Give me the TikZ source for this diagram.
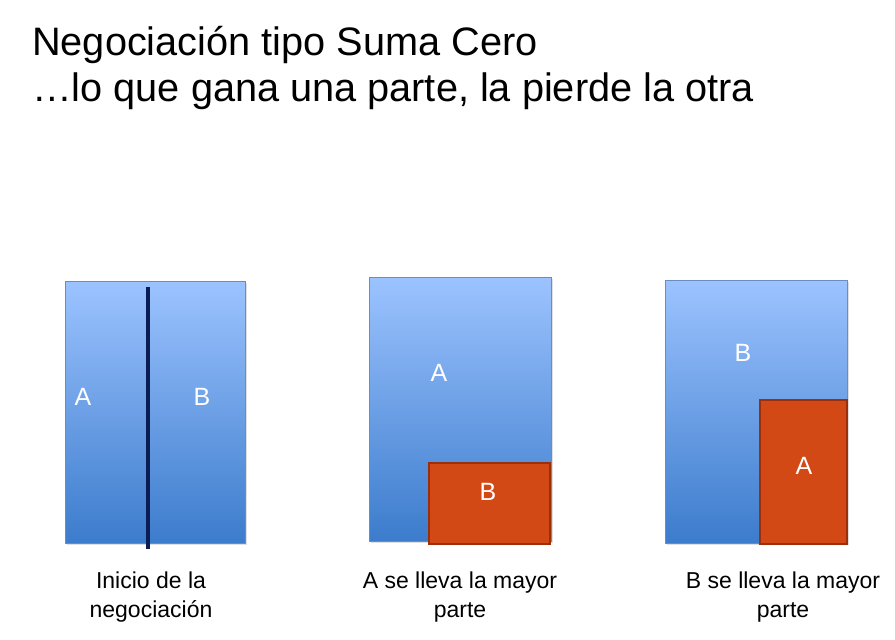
\documentclass[tikz,border=0pt]{standalone}
\usepackage{fontspec}
\setmainfont{Liberation Sans}
\usetikzlibrary{shadows}
\definecolor{bluetop}{HTML}{9CC3FF}
\definecolor{bluebot}{HTML}{3C7CCC}
\definecolor{blueedge}{HTML}{6A8CBE}
\definecolor{redfill}{HTML}{D34916}
\definecolor{rededge}{HTML}{9C2E0C}
\definecolor{navy}{HTML}{0A1E55}
\tikzset{
  bluebox/.style={draw=blueedge, line width=1pt, top color=bluetop, bottom color=bluebot, drop shadow={shadow xshift=1.5pt, shadow yshift=-1.5pt, opacity=0.25}},
  redbox/.style={draw=rededge, line width=2.8pt, fill=redfill},
  boxlbl/.style={text=white, font=\fontsize{25}{28}\selectfont},
  caption/.style={align=center, font=\fontsize{23}{29}\selectfont},
  titletext/.style={anchor=base west, font=\fontsize{39.7}{44}\selectfont}
}
\begin{document}
\begin{tikzpicture}[x=1pt,y=-1pt]
\useasboundingbox (0,0) rectangle (895,640);
\node[titletext, inner sep=0pt] (t1) at (32,55) {Negociación tipo Suma Cero};
\node[titletext, inner sep=0pt] (t2) at (32,101) {…lo que gana una parte, la pierde la otra};
% box 1
\path[bluebox] (65,281) rectangle (245,543);
\coordinate (l1) at (148,287);
\coordinate (l2) at (148,549);
\draw[navy, line width=3.5pt] (l1) -- (l2);
\node[boxlbl] (a1) at (83,397) {A};
\node[boxlbl] (b1) at (202,397) {B};
% box 2
\path[bluebox] (369,277) rectangle (551,541);
\path[redbox] (429,463) rectangle (550,544);
\node[boxlbl] (a2) at (439,373) {A};
\node[boxlbl] (b2) at (488,492) {B};
% box 3
\path[bluebox] (665,280) rectangle (847,543);
\path[redbox] (760,400) rectangle (847,544);
\node[boxlbl] (b3) at (743,353) {B};
\node[boxlbl] (a3) at (804,466) {A};
% captions
\node[caption] (c1) at (151,597) {Inicio de la\\negociación};
\node[caption] (c2) at (460,597) {A se lleva la mayor\\parte};
\node[caption] (c3) at (783,597) {B se lleva la mayor\\parte};
\end{tikzpicture}
\end{document}
